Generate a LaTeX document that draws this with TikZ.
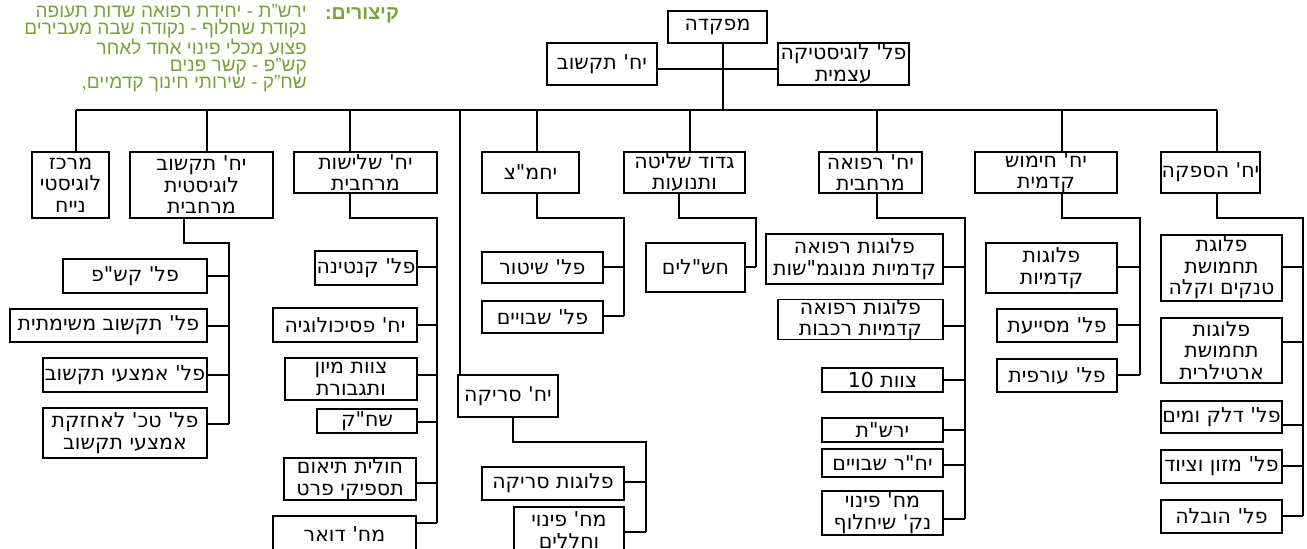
\documentclass[tikz,border=0pt]{standalone}
\usepackage{fontspec}
\TeXXeTstate=1
\newfontfamily\hebbox[Script=Hebrew]{DejaVu Sans}
\newfontfamily\hebleg[Script=Hebrew]{Liberation Sans}
\definecolor{lgreen}{RGB}{118,163,58}
\newcommand\heb[1]{\beginR#1\endR}
\newcommand\bx[6]{\node[bbox,minimum width={(#4-#2)*1pt},minimum height={(#5-#3)*1pt}] (#1) at ({(#2+#4)/2},{(#3+#5)/2}) {#6};}
\newcommand\kid[8]{\bx{#1}{#2}{#3}{#4}{#5}{#8}\coordinate (#1c) at (#6,#7);\draw[ln] (#1c -| #1.east) -- (#1c);}
\newcommand\spine[5]{\coordinate (#1a) at (#2,#3);\coordinate (#1b) at (#4,#3);\draw[ln] (#1a |- #1.south) -- (#1a) -- (#1b) -- (#5c);}
\newcommand\drop[2]{\coordinate (#1d) at (#2,110);\draw[ln] (#1d) -- (#1d |- #1.north);}
\begin{document}
\begin{tikzpicture}[x=1pt,y=-1pt,
  bbox/.style={draw=black,line width=1.2pt,inner sep=0pt,align=center,font=\hebbox\fontsize{20.5}{21.5}\selectfont},
  ln/.style={draw=black,line width=1.3pt}]
\useasboundingbox (0,0) rectangle (1307,549);
% legend
\node[anchor=base east,inner sep=0pt,text=lgreen,font=\hebleg\bfseries\fontsize{19.5}{17}\selectfont] (legt) at (399,19) {\heb{קיצורים:}};
\node[anchor=north east,inner sep=0pt,align=right,text=lgreen,font=\hebleg\fontsize{19}{17}\selectfont] (leg) at (307,4)
 {\heb{ירש”ת - יחידת רפואה שדות תעופה}\\\heb{נקודת שחלוף - נקודה שבה מעבירים}\\\heb{פצוע מכלי פינוי אחד לאחר}\\\heb{קש”פ  - קשר פנים}\\\heb{שח”ק - שירותי חינוך קדמיים,}};
% top
\bx{mp}{668}{11}{767}{43}{\heb{מפקדה}}
\bx{tq}{547}{43}{657}{85}{\heb{יח' תקשוב}}
\bx{lg}{778}{43}{909}{85}{\heb{פל' לוגיסטיקה}\\\heb{עצמית}}
\coordinate (top) at (723,110);
\coordinate (hz) at (723,69);
\draw[ln] (top |- mp.south) -- (top);
\draw[ln] (hz -| tq.east) -- (hz -| lg.west);
% level 1
\bx{m1}{32}{152}{109}{218}{\heb{מרכז}\\\heb{לוגיסטי}\\\heb{נייח}}
\bx{m2}{130}{152}{273}{218}{\heb{יח' תקשוב}\\\heb{לוגיסטית}\\\heb{מרחבית}}
\bx{m3}{294}{152}{437}{193}{\heb{יח' שלישות}\\\heb{מרחבית}}
\bx{m4}{458}{375}{558}{417}{\heb{יח' סריקה}}
\bx{m5}{482}{152}{579}{193}{\heb{יחמ"צ}}
\bx{m6}{624}{152}{745}{193}{\heb{גדוד שליטה}\\\heb{ותנועות}}
\bx{m7}{819}{152}{922}{193}{\heb{יח' רפואה}\\\heb{מרחבית}}
\bx{m8}{975}{152}{1117}{193}{\heb{יח' חימוש}\\\heb{קדמית}}
\bx{m9}{1161}{152}{1260}{193}{\heb{יח' הספקה}}
\drop{m1}{76}\drop{m2}{207}\drop{m3}{350}\drop{m4}{460}\drop{m5}{537}
\drop{m6}{690}\drop{m7}{877}\drop{m8}{1062}\drop{m9}{1217}
\draw[ln] (m1d) -- (m9d);
% m2 kids
\kid{k21}{63}{259}{207}{293}{229}{276}{\heb{פל' קש"פ}}
\kid{k22}{10}{309}{207}{342}{229}{326}{\heb{פל' תקשוב משימתית}}
\kid{k23}{43}{358}{207}{392}{229}{375}{\heb{פל' אמצעי תקשוב}}
\kid{k24}{43}{408}{207}{458}{229}{424}{\heb{פל' טכ' לאחזקת}\\\heb{אמצעי תקשוב}}
\spine{m2}{184}{243}{229}{k24}
% m3 kids
\kid{k31}{315}{251}{417}{285}{437}{267}{\heb{פל' קנטינה}}
\kid{k32}{273}{308}{417}{342}{437}{325}{\heb{יח' פסיכולוגיה}}
\kid{k33}{285}{358}{417}{400}{437}{375}{\heb{צוות מיון}\\\heb{ותגבורת}}
\kid{k34}{317}{409}{417}{433}{437}{422}{\heb{שח"ק}}
\kid{k35}{284}{458}{416}{500}{437}{483}{\heb{חולית תיאום}\\\heb{תספיקי פרט}}
\kid{k36}{273}{516}{416}{552}{437}{523}{\heb{מח' דואר}}
\spine{m3}{350}{218}{437}{k36}
% m4 kids
\kid{k41}{482}{467}{624}{500}{646}{482}{\heb{פלוגות סריקה}}
\kid{k42}{514}{507}{624}{553}{646}{532}{\heb{מח' פינוי}\\\heb{וחללים}}
\spine{m4}{513}{442}{646}{k42}
% m5 kids
\kid{k51}{482}{252}{603}{283}{624}{267}{\heb{פל' שיטור}}
\kid{k52}{482}{301}{603}{333}{624}{316}{\heb{פל' שבויים}}
\spine{m5}{537}{218}{624}{k52}
% m6 kid
\kid{k61}{646}{243}{745}{292}{756}{267}{\heb{חש"לים}}
\spine{m6}{679}{218}{756}{k61}
% m7 kids
\kid{k71}{766}{234}{943}{284}{965}{267}{\heb{פלוגות רפואה}\\\heb{קדמיות מנוגמ"שות}}
\kid{k72}{778}{300}{943}{339}{965}{326}{\heb{פלוגות רפואה}\\\heb{קדמיות רכבות}}
\kid{k73}{822}{368}{943}{392}{965}{380}{\heb{צוות \beginL10\endL}}
\kid{k74}{822}{418}{943}{442}{965}{430}{\heb{ירש"ת}}
\kid{k75}{822}{449}{943}{477}{965}{465}{\heb{יח"ר שבויים}}
\kid{k76}{822}{491}{943}{535}{965}{519}{\heb{מח' פינוי}\\\heb{נק' שיחלוף}}
\spine{m7}{877}{218}{965}{k76}
% m8 kids
\kid{k81}{986}{243}{1117}{293}{1140}{267}{\heb{פלוגות}\\\heb{קדמיות}}
\kid{k82}{997}{309}{1117}{342}{1140}{325}{\heb{פל' מסייעת}}
\kid{k83}{997}{359}{1117}{392}{1140}{375}{\heb{פל' עורפית}}
\spine{m8}{1062}{218}{1140}{k83}
% m9 kids
\kid{k91}{1161}{235}{1282}{301}{1303}{267}{\heb{פלוגת}\\\heb{תחמושת}\\\heb{טנקים וקלה}}
\kid{k92}{1161}{318}{1282}{383}{1303}{342}{\heb{פלוגות}\\\heb{תחמושת}\\\heb{ארטילרית}}
\kid{k93}{1161}{401}{1282}{433}{1303}{425}{\heb{פל' דלק ומים}}
\kid{k94}{1161}{450}{1282}{483}{1303}{466}{\heb{פל' מזון וציוד}}
\kid{k95}{1161}{500}{1282}{533}{1303}{516}{\heb{פל' הובלה}}
\spine{m9}{1217}{218}{1303}{k95}
\end{tikzpicture}
\end{document}
